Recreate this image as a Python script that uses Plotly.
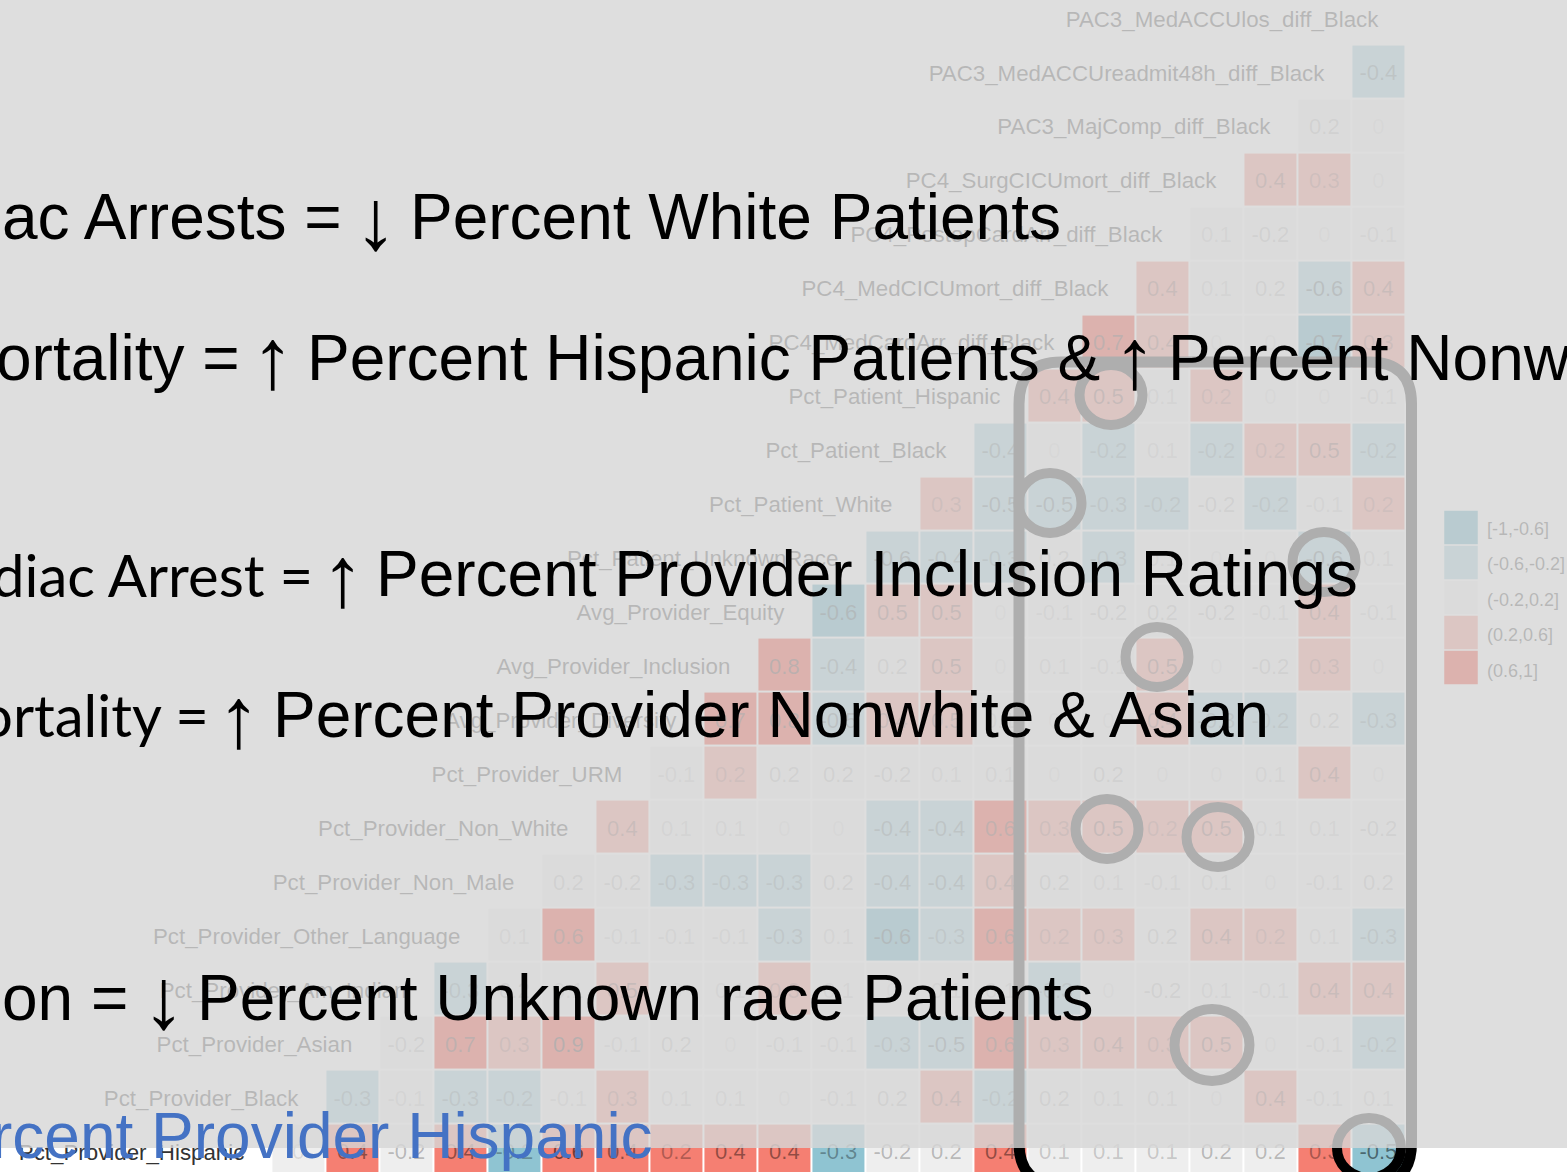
import plotly.graph_objects as go

W, H = 1567, 1172
CELL_W, CELL_H = 54.0, 53.95
RIGHT_CENTER, TOP_CENTER = 1378.4, 17.5

row_labels = ["PAC3_MedACCUlos_diff_Black", "PAC3_MedACCUreadmit48h_diff_Black", "PAC3_MajComp_diff_Black",
    "PC4_SurgCICUmort_diff_Black", "PC4_PostopCardArr_diff_Black", "PC4_MedCICUmort_diff_Black",
    "PC4_MedCardArr_diff_Black", "Pct_Patient_Hispanic", "Pct_Patient_Black", "Pct_Patient_White",
    "Pct_Patient_UnknownRace", "Avg_Provider_Equity", "Avg_Provider_Inclusion", "Avg_Provider_Diversity",
    "Pct_Provider_URM", "Pct_Provider_Non_White", "Pct_Provider_Non_Male", "Pct_Provider_Other_Language",
    "Pct_Provider_Am_Indian", "Pct_Provider_Asian", "Pct_Provider_Black", "Pct_Provider_Hispanic"]

row_00 = []
row_01 = [-.4]
row_02 = [.18, 0]
row_03 = [.4, .3, 0]
row_04 = [.1, -.18, 0, -.1]
row_05 = [.4, .1, .18, -.58, .4]
row_06 = [.7, .4, 0, 0, -.7, .3]
row_07 = [.4, .5, .1, .24, 0, 0, -.1]
row_08 = [-.4, 0, -.24, .1, -.24, .24, .5, -.24]
row_09 = [.3, -.5, -.5, -.3, -.24, -.18, -.24, -.1, .24]
row_10 = [-.58, -.4, -.3, .18, -.3, .1, 0, 0, -.58, .1]
row_11 = [-.62, .5, .5, 0, -.1, -.18, .18, -.18, -.1, .4, -.1]
row_12 = [.8, -.4, .18, .5, 0, .1, -.1, .5, 0, -.18, .3, 0]
row_13 = [.7, .8, -.5, .4, .5, .1, 0, 0, .4, -.3, -.24, .18, -.3]
row_14 = [-.1, .24, .18, .18, -.18, .1, .1, 0, .18, 0, 0, .1, .4, 0]
row_15 = [.4, .1, .1, 0, 0, -.4, -.4, .62, .3, .5, .24, .5, .1, .1, -.18]
row_16 = [.18, -.18, -.3, -.3, -.3, .18, -.4, -.4, .4, .18, .1, -.1, .1, 0, -.1, .18]
row_17 = [.1, .62, -.1, -.1, -.1, -.3, .1, -.62, -.3, .62, .24, .3, .18, .4, .24, .1, -.3]
row_18 = [-.3, .18, .1, .5, 0, .1, .3, .1, 0, .1, .1, -.3, 0, -.18, .1, -.1, .4, .4]
row_19 = [-.18, .7, .3, .9, -.1, .18, 0, -.1, -.1, -.3, -.5, .62, .3, .4, .3, .5, 0, -.1, -.24]
row_20 = [-.3, -.1, -.3, -.24, -.1, .3, .1, .1, 0, -.1, .18, .4, -.24, .18, .1, .1, 0, .4, -.1, .1]
row_21 = [0, .4, -.18, .4, -.24, .58, .4, .24, .4, .4, -.3, -.18, .18, .4, .1, .1, .1, .18, .18, .3, -.5]
rows = [row_00, row_01, row_02, row_03, row_04, row_05, row_06, row_07, row_08, row_09, row_10,
        row_11, row_12, row_13, row_14, row_15, row_16, row_17, row_18, row_19, row_20, row_21]

legend_labels = ["[-1,-0.6]", "(-0.6,-0.2]", "(-0.2,0.2]", "(0.2,0.6]", "(0.6,1]"]
band_colors = ["#3B9AB2", "#8FC4D2", "#EEEEEE", "#F57F72", "#F21A00"]
band_edges = [0, .2, .4, .6, .8, 1]

N = len(rows)
cols = list(range(1, N))
pad = lambda r: [None] * (N - 1 - len(r)) + list(r)
z = [pad(r) for r in rows]


def fmt(v):
    s = f"{v:.1f}"
    return "0" if s in ("0.0", "-0.0") else s


colorscale = []
for i, c in enumerate(band_colors):
    colorscale += [[band_edges[i], c], [band_edges[i + 1], c]]

px2x = lambda p: N - 1 + (p - RIGHT_CENTER) / CELL_W
px2y = lambda p: (p - TOP_CENTER) / CELL_H

fig = go.Figure()
fig.add_trace(go.Heatmap(z=z, x=cols, y=list(range(N)), zmin=-1, zmax=1, colorscale=colorscale,
                         showscale=False, xgap=2, ygap=2, hoverinfo="skip"))

# coefficient labels: opacity follows the size of the coefficient, as in the reference
cell_x, cell_y, cell_t, cell_c = [], [], [], []
for ri, r in enumerate(z):
    for ci, v in zip(cols, r):
        if v is not None:
            cell_x.append(ci)
            cell_y.append(ri + 3.5 / CELL_H)
            cell_t.append(fmt(v))
            cell_c.append(f"rgba(0,0,0,{min(1, 0.1 + 0.78 * abs(v)):.2f})")
fig.add_trace(go.Scatter(x=cell_x, y=cell_y, mode="text", text=cell_t, textposition="middle center",
                         textfont=dict(family="Liberation Sans", size=22, color=cell_c),
                         hoverinfo="skip", showlegend=False))

fig.add_trace(go.Scatter(x=[N - 1 - i for i in range(N)], y=[i + 3.5 / CELL_H for i in range(N)], mode="text",
                         text=row_labels, textposition="middle left",
                         textfont=dict(family="Liberation Sans", size=22.3, color="#333333"),
                         hoverinfo="skip", showlegend=False))
legend_y = [px2y(527.5 + 35 * i) for i in range(len(legend_labels))]
legend_ty = [px2y(530 + 35.5 * i) for i in range(len(legend_labels))]
fig.add_trace(go.Scatter(x=[px2x(1461)] * 5, y=legend_y, mode="markers",
                         marker=dict(symbol="square", size=33.5, color=band_colors),
                         hoverinfo="skip", showlegend=False))
fig.add_trace(go.Scatter(x=[px2x(1487)] * 5, y=legend_ty, mode="text", text=legend_labels,
                         textposition="middle right",
                         textfont=dict(family="Liberation Sans", size=18, color="#333333"),
                         hoverinfo="skip", showlegend=False))

fx = lambda p: p / W
fy = lambda p: 1 - p / H


def ellipse(cx, cy, rx, ry):
    return dict(type="circle", xref="paper", yref="paper", x0=fx(cx - rx), x1=fx(cx + rx),
                y0=fy(cy + ry), y1=fy(cy - ry), line=dict(color="black", width=10), layer="above")


L, R, T, B, r = 1019, 1411.5, 362, 1185, 42
rpath = (f"M {fx(L)} {fy(T + r)} Q {fx(L)} {fy(T)} {fx(L + r)} {fy(T)} L {fx(R - r)} {fy(T)} "
         f"Q {fx(R)} {fy(T)} {fx(R)} {fy(T + r)} L {fx(R)} {fy(B - r)} Q {fx(R)} {fy(B)} {fx(R - r)} {fy(B)} "
         f"L {fx(L + r)} {fy(B)} Q {fx(L)} {fy(B)} {fx(L)} {fy(B - r)} Z")
shapes = [dict(type="path", path=rpath, xref="paper", yref="paper", layer="above",
               line=dict(color="black", width=11))]
shapes += [ellipse(*e) for e in [(1111, 395, 31.5, 30), (1050, 503, 31.5, 30), (1324, 562, 31.5, 30),
                                 (1157, 657, 31.5, 30), (1107, 829, 31.5, 30), (1218, 837, 31.5, 30),
                                 (1212, 1045, 37.5, 36), (1369, 1148, 32, 30)]]
shapes.append(dict(type="rect", xref="paper", yref="paper", x0=0, x1=1, y0=fy(1148), y1=1, layer="above",
                   line=dict(width=0), fillcolor="rgba(214,214,214,0.81)"))

ARIAL, CALIBRI = "Liberation Sans", "Lato"


def note(text, x, y, anchor, size=64, family=ARIAL, color="#000000"):
    return dict(text=text, x=fx(x), y=fy(y), xref="paper", yref="paper", xanchor=anchor, yanchor="middle",
                showarrow=False, font=dict(family=family, size=size, color=color), borderpad=0, align="left")


ARROW = 86
annotations = [
    note("ac Arrests =", 343, 217, "right"),
    note("↓", 375, 219, "center", ARROW),
    note("Percent White Patients", 409, 217, "left"),
    note("ortality =", 241, 358, "right"),
    note("↑", 272, 358, "center", ARROW),
    note("Percent Hispanic Patients &amp;", 306, 358, "left"),
    note("↑", 1134, 358, "center", ARROW),
    note("Percent Nonw", 1167, 358, "left"),
    note("diac Arrest =", 314, 574, "right", 58, CALIBRI),
    note("↑", 342, 576, "center", ARROW),
    note("Percent Provider Inclusion Ratings", 375, 574, "left"),
    note("ortality =", 210, 714, "right", 58, CALIBRI),
    note("↑", 238, 717, "center", ARROW),
    note("Percent Provider Nonwhite &amp; Asian", 272, 715, "left"),
    note("on =", 129, 998, "right"),
    note("↓", 163, 998, "center", ARROW),
    note("Percent Unknown race Patients", 196, 998, "left"),
    note("rcent Provider Hispanic", 654, 1136, "right", color="#4472C4"),
]

fig.update_layout(width=W, height=H, margin=dict(l=0, r=0, t=0, b=0), plot_bgcolor="white", paper_bgcolor="white",
                  showlegend=False, shapes=shapes, annotations=annotations,
                  xaxis=dict(visible=False, range=[px2x(0), px2x(W)], fixedrange=True),
                  yaxis=dict(visible=False, range=[px2y(H), px2y(0)], fixedrange=True))
fig.write_html("out.html", config={"displayModeBar": False},
               post_script="document.body.style.margin='0';document.body.style.overflow='hidden';")
